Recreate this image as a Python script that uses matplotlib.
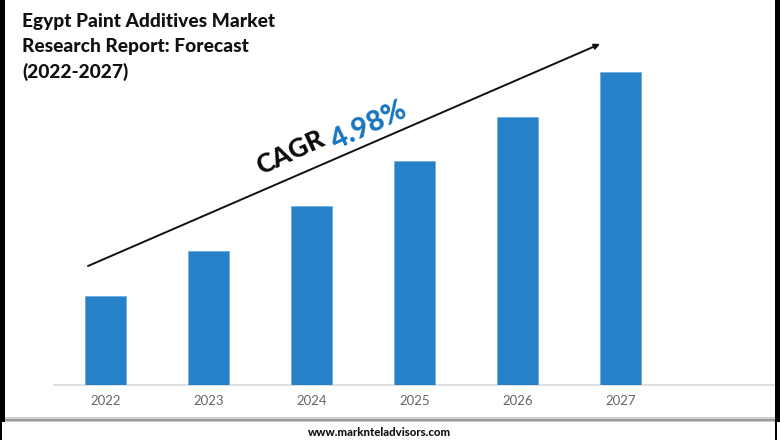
import matplotlib
matplotlib.use("Agg")
import matplotlib.pyplot as plt
from matplotlib.patches import Rectangle, FancyArrowPatch

years = ["2022", "2023", "2024", "2025", "2026", "2027"]
values = [89, 134, 179, 224, 268, 313]
title_lines = ["Egypt Paint Additives Market", "Research Report: Forecast", "(2022-2027)"]
site = "www.marknteladvisors.com"

W, H = 780, 440
def fx(p): return p / W
def fy(p): return 1 - p / H

plt.rcParams['font.family'] = ['Lato', 'DejaVu Sans']
fig = plt.figure(figsize=(W / 100, H / 100), dpi=100, facecolor="white")

ax = fig.add_axes([fx(54), fy(385), fx(726), 313 / H * 1.1])
ax.bar(range(len(years)), values, width=41 / 103, color="#2681C8", edgecolor="#5FA3DA", linewidth=0.4, zorder=3)
ax.set_xlim(-51.5 / 103, -51.5 / 103 + 726 / 103)
ax.set_ylim(0, 313 * 1.1)
ax.set_xticks(range(len(years)))
ax.set_xticklabels(years, fontsize=9.5, color="#666666")
ax.tick_params(axis="x", length=0, pad=7)
ax.set_yticks([])
for s in ["top", "right", "left"]:
    ax.spines[s].set_visible(False)
ax.spines["bottom"].set_color("#D9D9D9")
ax.spines["bottom"].set_linewidth(1.2)
ax.patch.set_alpha(0)

for i, line in enumerate(title_lines):
    fig.text(fx(22), fy(21 + i * 25.5), line, fontsize=13.8, fontweight=900, color="#111111", va="center", ha="left")

fig.add_artist(FancyArrowPatch(
    (fx(88), fy(266)), (fx(600), fy(44)), transform=fig.transFigure,
    arrowstyle="-|>", mutation_scale=8, color="#111111", linewidth=1.4, shrinkA=0, shrinkB=0))

fig.text(fx(290), fy(153), "CAGR", fontsize=19, fontweight=900, color="#0A0A0A",
         rotation=25, rotation_mode="anchor", ha="center", va="center")
fig.text(fx(369), fy(126), "4.98%", fontsize=20.5, fontweight=900, color="#1874BE",
         rotation=25, rotation_mode="anchor", ha="center", va="center")

# footer band and frame
for top, h, c in [(417, 1.5, "#D0D0D0"), (418.5, 2, "#9C9C9C"), (420.5, 1.5, "#C8C8C8")]:
    fig.add_artist(Rectangle((fx(5), fy(top + h)), fx(770), h / H, transform=fig.transFigure, color=c, lw=0))
fig.add_artist(Rectangle((0, fy(422)), fx(5), 422 / H, transform=fig.transFigure, color="black", lw=0))
fig.add_artist(Rectangle((fx(775), fy(422)), fx(4.5), 422 / H, transform=fig.transFigure, color="black", lw=0))
fig.add_artist(Rectangle((0, 0), fx(1.5), 18 / H, transform=fig.transFigure, color="black", lw=0))
fig.add_artist(Rectangle((fx(775), 0), fx(1.5), 18 / H, transform=fig.transFigure, color="black", lw=0))
fig.text(fx(380), fy(432.5), site, fontsize=8.2, fontweight=900, color="#111111", ha="center", va="center")

fig.savefig("out.png", dpi=100)
